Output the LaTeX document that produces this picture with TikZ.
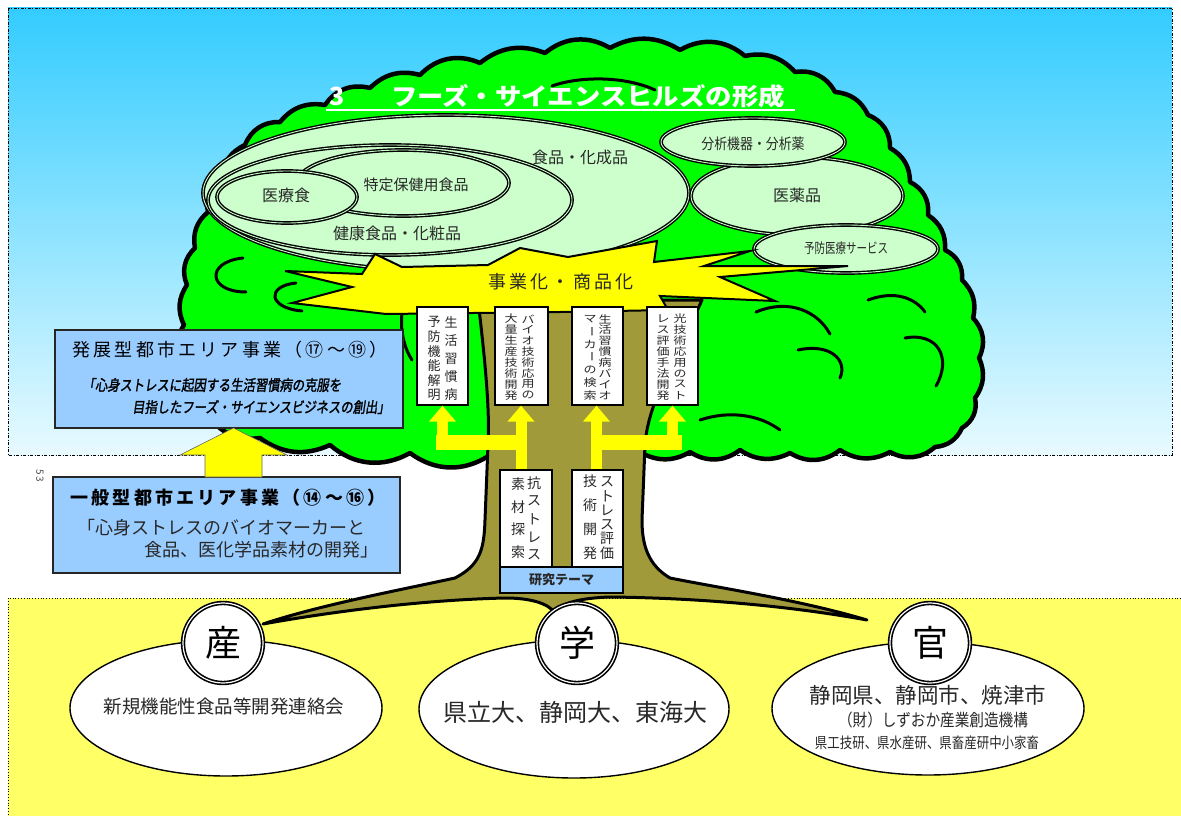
\documentclass[tikz,border=0pt]{standalone}
\usepackage{fontspec}
\setmainfont{Noto Sans CJK JP}
\newfontfamily\jpslant{Noto Sans CJK JP}[FakeSlant=0.18, FakeBold=1.8]
\newfontfamily\jpwide{Noto Sans CJK JP}[LetterSpace=18]
\usetikzlibrary{shapes.geometric, arrows.meta}
\definecolor{skytop}{RGB}{51,204,255}
\definecolor{skybot}{RGB}{232,250,255}
\definecolor{leaf}{RGB}{0,255,0}
\definecolor{cell}{RGB}{204,255,204}
\definecolor{bark}{RGB}{160,154,58}
\definecolor{ground}{RGB}{255,255,102}
\definecolor{panel}{RGB}{153,204,255}
\definecolor{burst}{RGB}{255,255,0}
\definecolor{ink}{RGB}{40,40,40}
\newcommand{\fsz}[1]{\fontsize{#1}{#1}\selectfont}
% one column of vertical text: name, x, first y, step, vertical squeeze, characters
\newcommand{\vcol}[6]{%
  \foreach \ch [count=\k] in {#6} {%
    \node[vch] (#1-\k) at (#2, {#3+(\k-1)*#4}) {\scalebox{1}[#5]{\ch}};}}
\begin{document}
\begin{tikzpicture}[x=1pt, y=-1pt,
  cellell/.style={ellipse, draw=black, line width=1.4pt, double=cell, double distance=0.9pt, fill=cell, inner sep=0pt},
  lbl/.style={text=ink, inner sep=0pt},
  vbox/.style={draw=black, line width=1.2pt, fill=white, inner sep=0pt},
  vch/.style={inner sep=0pt, text=ink, font=\fsz{13}},
  panelbox/.style={draw=black!85, line width=1.5pt, fill=panel, inner sep=0pt},
  fat/.style={draw=burst, line width=11pt, -{Triangle[width=26pt,length=16pt]}},
  fatbar/.style={draw=burst, line width=15pt, line cap=butt},
  orgell/.style={ellipse, draw=black, line width=1.4pt, fill=white, inner sep=0pt},
  seal/.style={circle, draw=black, line width=1.6pt, double=white, double distance=1.2pt, fill=white, minimum size=80pt, inner sep=0pt, font=\fsz{36}},
  branch/.style={draw=black, line width=3pt, line cap=round}]
\useasboundingbox (0,0) rectangle (1181,816);
\fill[white] (0,0) rectangle (1181,816);

% sky and ground panels
\fill[top color=skytop, bottom color=skybot] (8,8) rectangle (1172,455);
\draw[line width=0.8pt, dash pattern=on 3pt off 1.5pt on 1pt off 1.5pt] (8,8) rectangle (1172,455);
\fill[ground] (8,598) rectangle (1181,816);
\draw[line width=0.8pt, dotted] (1181,598) -- (8,598) -- (8,816);
\node[rotate=-90, font=\fsz{10}, text=black!70, inner sep=0pt] (pageno) at (40,476) {5\,3};

% canopy
\draw[fill=leaf, line width=4.5pt, line join=round]
  (410,453) to[bend left=35] (330,445) to[bend left=30] (260,438) to[bend left=35] (205,410)
  to[bend left=30] (186,370) to[bend left=35] (184,325) to[bend left=30] (187,285)
  to[bend left=35] (195,248) to[bend left=30] (208,212) to[bend left=35] (222,178)
  to[bend left=30] (245,145) to[bend left=35] (280,122) to[bend left=30] (325,105)
  to[bend left=35] (370,88) to[bend left=30] (420,75) to[bend left=35] (480,63)
  to[bend left=30] (545,53) to[bend left=35] (610,48) to[bend left=30] (680,50)
  to[bend left=35] (745,56) to[bend left=30] (795,72) to[bend left=35] (835,92)
  to[bend left=30] (868,115) to[bend left=35] (890,148) to[bend left=30] (910,182)
  to[bend left=35] (928,215) to[bend left=30] (945,250) to[bend left=35] (962,280)
  to[bend left=30] (973,318) to[bend left=35] (979,358) to[bend left=30] (975,398)
  to[bend left=35] (962,428) to[bend left=30] (935,447) to[bend left=35] (890,452)
  to[bend left=30] (840,450) to[bend left=35] (790,453) to[bend left=30] (740,450)
  to[bend left=35] (690,452) to[bend left=30] (640,452) to[bend left=35] (560,455)
  to[bend left=30] (490,455) to[bend left=35] cycle;
% branch strokes inside the foliage
\draw[branch] (243,258) .. controls (205,262) and (208,292) .. (246,292);
\draw[branch] (296,283) .. controls (266,286) and (268,308) .. (302,311);
\draw[branch] (756,312) .. controls (790,298) and (818,312) .. (830,334);
\draw[branch] (798,350) .. controls (830,343) and (848,360) .. (840,378);
\draw[branch] (905,338) .. controls (938,332) and (952,358) .. (936,386);
\draw[branch] (868,300) .. controls (895,290) and (915,298) .. (925,312);
\draw[branch] (552,86) .. controls (580,76) and (625,76) .. (655,90);
\draw[branch] (700,420) .. controls (730,410) and (760,415) .. (780,430);
\draw[branch] (405,300) .. controls (398,320) and (402,345) .. (412,360);

% trunk and roots
\draw[fill=bark, line width=3pt, line join=round]
  (478,300) .. controls (485,360) and (490,410) .. (488,445) -- (485,520)
  .. controls (484,550) and (480,565) .. (455,578)
  .. controls (400,590) and (320,605) .. (263,624)
  .. controls (330,612) and (420,600) .. (505,598)
  .. controls (530,598) and (548,603) .. (555,613)
  .. controls (560,603) and (580,598) .. (610,597)
  .. controls (700,598) and (790,606) .. (867,620)
  .. controls (800,600) and (720,588) .. (670,578)
  .. controls (648,565) and (642,545) .. (642,520) -- (645,445)
  .. controls (648,400) and (680,350) .. (702,300) -- cycle;

% product fields
\node[cellell, minimum width=486pt, minimum height=156pt] (foodE) at (446,193) {};
\node[cellell, minimum width=364pt, minimum height=110pt] (healthE) at (390,200) {};
\node[cellell, minimum width=212pt, minimum height=66pt] (fosuE) at (403,183) {};
\node[cellell, minimum width=140pt, minimum height=52pt] (medfoodE) at (287,197) {};
\node[cellell, minimum width=212pt, minimum height=78pt] (drugE) at (797,196) {};
\node[cellell, minimum width=184pt, minimum height=48pt] (anaE) at (753,142) {};
\node[cellell, minimum width=184pt, minimum height=48pt] (prevE) at (846,249) {};
\node[lbl, font=\fsz{16}] (foodL) at (580,157) {食品・化成品};
\node[lbl, font=\fsz{15}] (fosuL) at (416,185) {特定保健用食品};
\node[lbl, font=\fsz{16}] (medfoodL) at (286,195) {医療食};
\node[lbl, font=\fsz{16}] (healthL) at (397,233) {健康食品・化粧品};
\node[lbl, font=\fsz{15}] (anaL) at (753,144) {\scalebox{0.86}[1]{分析機器・分析薬}};
\node[lbl, font=\fsz{16}] (drugL) at (797,195) {医薬品};
\node[lbl, font=\fsz{14}] (prevL) at (846,248) {\scalebox{0.75}[1]{予防医療サービス}};

% commercialisation burst
\draw[fill=burst, line width=2pt, line join=miter]
  (386,314) -- (292,303) -- (352,287) -- (285,271) -- (362,274) -- (375,254)
  -- (402,267) -- (488,265) -- (520,248) -- (568,257) -- (657,241) -- (654,262)
  -- (750,251) -- (704,266) -- (848,266) -- (720,277) -- (775,301) -- (660,296)
  -- (668,310) -- (560,312) -- cycle;
\node[lbl, font=\jpwide\fsz{18}] (bizL) at (561,282) {事業化・商品化};

% title
\node[inner sep=0pt, text=white, font=\fsz{25}\bfseries] (titleNum) at (337,96) {3};
\node[inner sep=0pt, text=white, font=\fsz{24}\bfseries] (titleTxt) at (588,96) {\scalebox{1.1}[1]{フーズ・サイエンスヒルズの形成}};
\draw[white, line width=1.6pt] (326,110) -- (795,110);

% research outcome boxes in the crown
\node[vbox, minimum width=51pt, minimum height=98pt] (b1) at (442.5,356) {};
\node[vbox, minimum width=53pt, minimum height=98pt] (b2) at (521.5,356) {};
\node[vbox, minimum width=51pt, minimum height=98pt] (b3) at (597.5,356) {};
\node[vbox, minimum width=51pt, minimum height=98pt] (b4) at (672.5,356) {};
\vcol{b1r}{451}{322}{18.25}{1}{生,活,習,慣,病}
\vcol{b1l}{434}{322}{14.6}{1}{予,防,機,能,解,明}
\vcol{b2r}{528}{319}{10.9}{0.8}{バ,イ,オ,技,術,応,用,の}
\vcol{b2l}{511}{319}{10.9}{0.8}{大,量,生,産,技,術,開,発}
\vcol{b3r}{605}{319}{10.9}{0.8}{生,活,習,慣,病,バ,イ,オ}
\vcol{b3l}{590}{319}{12.7}{0.8}{マ,{\rotatebox{-90}{ー}},カ,{\rotatebox{-90}{ー}},の,検,索}
\vcol{b4r}{680}{319}{10.9}{0.8}{光,技,術,応,用,の,ス,ト}
\vcol{b4l}{663}{319}{10.9}{0.8}{レ,ス,評,価,手,法,開,発}

% research theme boxes on the trunk
\node[vbox, minimum width=52pt, minimum height=97pt] (bA) at (526,518.5) {};
\node[vbox, minimum width=51pt, minimum height=97pt] (bB) at (597.5,518.5) {};
\node[vbox, fill=panel, minimum width=123pt, minimum height=26pt, font=\fsz{13}\bfseries, text=ink] (theme) at (561.5,580) {研究テーマ};
\begin{scope}[vch/.append style={font=\fsz{14}}]
\vcol{bAr}{534}{483}{18}{1}{抗,ス,ト,レ,ス}
\vcol{bAl}{518}{484}{22.7}{1}{素,材,探,索}
\vcol{bBr}{607}{482}{14.2}{1}{ス,ト,レ,ス,評,価}
\vcol{bBl}{590}{481}{24}{1}{技,術,開,発}
\end{scope}

% yellow arrows from themes to outcomes
\draw[fat] ([xshift=-5pt]bA.north) -- ([xshift=-5pt]bA.north |- b2.south);
\draw[fatbar] (436,442.5) -- (527,442.5);
\draw[fat] (b1.south |- 0,450) -- (b1.south);
\draw[fat] ([xshift=-1pt]bB.north) -- ([xshift=-1pt]bB.north |- b3.south);
\draw[fatbar] (591,442.5) -- (682,442.5);
\draw[fat] (b4.south |- 0,450) -- (b4.south);

% programme panels
\node[panelbox, minimum width=348pt, minimum height=98pt] (devBox) at (229,379) {};
\node[inner sep=0pt, text=black, font=\jpwide\fsz{18}] (devT1) at (230,350) {発展型都市エリア事業（⑰〜⑲）};
\node[inner sep=0pt, text=black, font=\jpslant\fsz{15}] (devT2) at (212,385) {\scalebox{0.82}[1]{「心身ストレスに起因する生活習慣病の克服を}};
\node[inner sep=0pt, text=black, font=\jpslant\fsz{15}] (devT3) at (261,407) {\scalebox{0.82}[1]{目指したフーズ・サイエンスビジネスの創出」}};

\node[panelbox, minimum width=347pt, minimum height=96pt] (genBox) at (226.5,525) {};
\node[inner sep=0pt, text=black, font=\jpwide\fsz{18}\bfseries] (genT1) at (228,498) {一般型都市エリア事業（⑭〜⑯）};
\node[inner sep=0pt, text=ink, font=\fsz{18}] (genT2) at (221.5,528) {「心身ストレスのバイオマーカーと};
\node[inner sep=0pt, text=ink, font=\fsz{18}] (genT3) at (261.5,550) {食品、医化学品素材の開発」};

\fill[burst, draw=black!60, line width=0.6pt]
  (205,477) -- (205,455) -- (180,455) -- (233.5,428) -- (287,455) -- (262,455) -- (262,477) -- cycle;

% industry, academia, government
\node[orgell, minimum width=312pt, minimum height=136pt] (sanE) at (226,708) {};
\node[orgell, minimum width=310pt, minimum height=138pt] (gakuE) at (574,709) {};
\node[orgell, minimum width=312pt, minimum height=133pt] (kanE) at (928,708.5) {};
\node[seal] (san) at (223,643) {産};
\node[seal] (gaku) at (577,643) {学};
\node[seal] (kan) at (930,643) {官};
\node[lbl, font=\fsz{18.5}] (sanL) at (224,706) {新規機能性食品等開発連絡会};
\node[lbl, font=\fsz{24}] (gakuL) at (575,712) {県立大、静岡大、東海大};
\node[lbl, font=\fsz{21.5}] (kanL1) at (928,695) {静岡県、静岡市、焼津市};
\node[lbl, font=\fsz{17}] (kanL2) at (933,720) {\scalebox{0.86}[1]{（財）しずおか産業創造機構}};
\node[lbl, font=\fsz{15}] (kanL3) at (927,743) {\scalebox{0.83}[1]{県工技研、県水産研、県畜産研中小家畜}};
\end{tikzpicture}
\end{document}
